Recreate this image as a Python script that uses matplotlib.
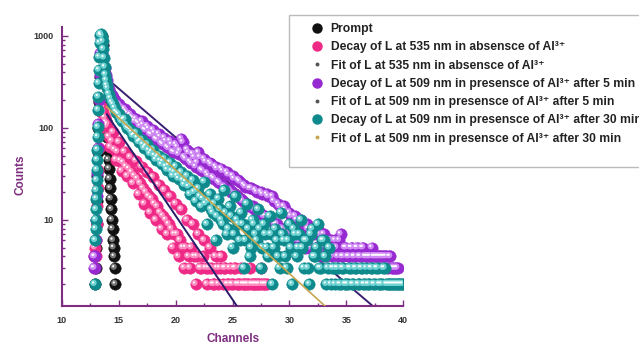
import matplotlib
matplotlib.use('Agg')
import matplotlib.pyplot as plt
import numpy as np
from matplotlib import transforms
from matplotlib.lines import Line2D
from matplotlib.patches import Rectangle
from matplotlib.ticker import FixedLocator, FixedFormatter, LogLocator, MultipleLocator, NullFormatter

plt.rcParams['font.family'] = ['Liberation Sans', 'DejaVu Sans']

# ---- data ----
# prompt (instrument response)
prompt_ch = [12.92, 12.96, 13.0, 13.04, 13.08, 13.12, 13.16, 13.2, 13.26, 13.32, 13.4, 13.5, 13.6,
             13.7, 13.8, 13.88, 13.95, 14.0, 14.05, 14.1, 14.15, 14.2, 14.25, 14.3, 14.35, 14.4,
             14.45, 14.5, 14.55, 14.6, 14.65, 14.7]
prompt_counts = [2, 3, 5, 9, 16, 30, 55, 100, 190, 360, 650, 1000, 800, 420, 200, 120, 90, 80, 58,
                 45, 36, 28, 22, 17, 13, 10, 8, 6, 5, 4, 3, 2]

# rising edges (fine channel spacing)
pink_rise_ch = [12.85, 12.9, 12.95, 13.0, 13.05, 13.1, 13.15, 13.2, 13.28, 13.36, 13.45, 13.55,
                13.65, 13.75, 13.85, 13.93]
pink_rise_counts = [4, 5, 4, 6, 9, 14, 22, 35, 60, 100, 150, 170, 150, 130, 115, 105]

purple_rise_ch = [12.78, 12.82, 12.86, 12.9, 12.95, 13.0, 13.05, 13.1, 13.15, 13.2, 13.25, 13.3,
                  13.38, 13.46, 13.55, 13.65, 13.75, 13.85, 13.93]
purple_rise_counts = [3, 4, 3, 4, 6, 10, 18, 32, 60, 110, 200, 380, 650, 900, 820, 600, 450, 380, 330]

teal_rise_ch = [12.88, 12.93, 12.96, 12.98, 13.0, 13.02, 13.04, 13.06, 13.08, 13.1, 13.12, 13.14,
                13.16, 13.18, 13.2, 13.22, 13.24, 13.27, 13.31, 13.36, 13.42, 13.5, 13.58, 13.64,
                13.7, 13.76, 13.82, 13.88, 13.94]
teal_rise_counts = [2, 6, 8, 10, 13, 17, 21, 27, 35, 45, 58, 80, 102, 157, 218, 307, 427, 590, 840,
                    1020, 1050, 1000, 870, 720, 580, 460, 380, 330, 290]

# decay tails: channels 14.0, 14.25, 14.5, ... (a) and 14.125, 14.375, ... (b)
tail_step = 0.25
tail_start_a = 14.0
tail_start_b = 14.125

pink_tail_a = [110, 62, 90, 45, 70, 34, 55, 30, 48, 25, 44, 19, 38, 15, 33, 12, 29, 10, 24, 8, 21, 7, 18, 5,
               15, 4, 13, 3, 10, 3, 9, 2, 7, 3, 6, 2, 5, 2, 4, 2, 4, 3, 2, 3, 2, 3, 2, 3,
               2, 2, 3, 2, 2, 2, 3, 2, 2]
pink_tail_b = [80, 72, 58, 55, 44, 42, 38, 36, 33, 30, 28, 25, 22, 20, 18, 17, 15, 14, 12, 11, 10, 9, 8, 7,
               7, 6, 5, 5, 4, 5, 4, 4, 3, 4, 3, 3, 3, 2, 3, 3, 2, 3, 2, 2, 3, 2, 2, 2,
               2, 2, 2, 2, 2, 2, 2, 2]

purple_tail_a = [300, 240, 215, 190, 180, 165, 160, 145, 140, 128, 125, 112, 118, 96, 104, 86, 95, 76,
                 86, 68, 78, 62, 72, 55,
                 66, 52, 76, 48, 58, 43, 52, 38,
                 54, 35, 46, 32, 42, 29, 38, 26, 36, 23, 33, 21, 30, 19, 27, 17,
                 24, 15, 22, 14, 21, 12, 20, 11, 19, 10, 18, 9, 15, 8, 14, 8,
                 12, 7, 11, 6, 10, 6, 9, 5, 8, 5, 8, 4, 7, 4, 6, 4,
                 6, 4, 7, 4, 5, 4, 5, 4, 5, 4, 5, 4, 4, 5, 4, 4,
                 4, 4, 4, 4, 3, 3, 3]
purple_tail_b = [265, 225, 200, 176, 170, 150, 152, 135, 132, 118, 116, 104, 108, 94, 98, 84, 88, 74,
                 80, 66, 72, 60, 66, 54,
                 62, 56, 70, 46, 54, 41, 48, 42, 48, 34, 43, 30, 40, 28, 36, 25, 34, 22, 31, 20,
                 28, 18, 26, 16,
                 23, 14, 22, 13, 20, 12, 19, 11, 18, 10, 16, 9, 14, 8, 13, 7,
                 11, 6, 10, 6, 9, 5, 8, 5, 7, 5, 7, 4, 6, 5, 6, 5,
                 5, 6, 4, 5, 4, 5, 4, 5, 4, 5, 4, 4, 4, 4, 4, 4,
                 4, 4, 3, 4, 3, 3]

teal_tail_a = [270, 210, 180, 150, 140, 118, 125, 100, 95, 82, 88, 70, 74, 60, 66, 52, 58, 45, 50, 40,
               46, 35, 42, 30,
               38, 28, 33, 24, 30, 19, 27, 16,
               22, 14, 26, 9, 19, 12, 6, 17, 10, 21, 7, 14, 5, 18, 9, 12,
               3, 15, 4, 10, 7, 13, 3, 9, 5, 11, 2, 8, 4, 12, 6, 3,
               9, 2, 7, 5, 10, 3, 6, 2, 8, 4, 9, 3, 6, 2, 5, 3,
               2, 3, 2, 3, 2, 3, 2, 3, 2, 3, 2, 3, 2, 3, 2, 3,
               2, 3, 2, 2, 2, 2, 2, 2, 2]
teal_tail_b = [235, 190, 165, 145, 128, 122, 108, 98, 90, 84, 78, 72, 66, 63, 57, 55, 50, 48, 44, 43,
               38, 39, 34, 33,
               30, 31, 27, 26, 23, 24, 20, 21, 18, 17, 15, 16, 13, 15, 11, 13, 9, 12, 8, 11,
               7, 10, 6, 9,
               6, 8, 5, 9, 6, 8, 5, 7, 4, 7, 5, 6, 3, 7, 4, 6,
               5, 8, 4, 7, 5, 6, 3, 7, 4, 5, 3, 6, 4, 3, 2, 3,
               3, 2, 3, 2, 2, 3, 2, 3, 2, 3, 2, 2, 3, 2, 3, 2, 2, 3, 2, 2, 2, 2, 2, 2]

# single exponential fits (straight on log axis)
fit535_ch = [13.95, 26.0]
fit535_counts = [140, 0.89]
fit5min_ch = [14.0, 38.0]
fit5min_counts = [340, 0.98]
fit30min_ch = [13.9, 34.0]
fit30min_counts = [170, 0.92]

labels = ['Prompt',
          'Decay of L at 535 nm in absensce of Al³⁺',
          'Fit of L at 535 nm in absensce of Al³⁺',
          'Decay of L at 509 nm in presensce of Al³⁺ after 5 min',
          'Fit of L at 509 nm in presensce of Al³⁺ after 5 min',
          'Decay of L at 509 nm in presensce of Al³⁺ after 30 min',
          'Fit of L at 509 nm in presensce of Al³⁺ after 30 min']

c_prompt = '#111111'
c_pink = '#EE2A86'
c_purple = '#9629D0'
c_teal = '#0F8A8C'
c_fit535 = '#2A1C6A'
c_fit5 = '#3A2070'
c_fit30 = '#C6A64E'
c_axis = '#7E2E80'


def series(rise_ch, rise_counts, tail_a, tail_b):
    ch_a = tail_start_a + tail_step * np.arange(len(tail_a))
    ch_b = tail_start_b + tail_step * np.arange(len(tail_b))
    x = np.r_[rise_ch, ch_a, ch_b]
    y = np.r_[rise_counts, tail_a, tail_b]
    order = np.argsort(x, kind='stable')
    return x[order], y[order]


def spheres(ax, x, y, color, shine, z, size=68):
    ax.scatter(x, y, s=size, c=color, edgecolors=color, linewidths=0.3, zorder=z)
    glow = transforms.offset_copy(ax.transData, fig=ax.figure, x=-0.9, y=0.9, units='points')
    ax.scatter(x, y, s=size * 0.3, c=shine, edgecolors='none', zorder=z + 0.1, transform=glow)
    spot = transforms.offset_copy(ax.transData, fig=ax.figure, x=-1.2, y=1.2, units='points')
    ax.scatter(x, y, s=2.5, c='white', edgecolors='none', zorder=z + 0.2, transform=spot)


fig = plt.figure(figsize=(6.39, 3.46), dpi=100)
ax = fig.add_axes([0.097, 0.116, 0.534, 0.806])

ax.plot(fit5min_ch, fit5min_counts, color=c_fit5, lw=1.4, zorder=1.5)

spheres(ax, prompt_ch, prompt_counts, c_prompt, '#777777', 2)

x, y = series(pink_rise_ch, pink_rise_counts, pink_tail_a, pink_tail_b)
spheres(ax, x, y, c_pink, '#FF8CC0', 3)
ax.plot(fit535_ch, fit535_counts, color=c_fit535, lw=1.4, zorder=3.5)

x, y = series(purple_rise_ch, purple_rise_counts, purple_tail_a, purple_tail_b)
spheres(ax, x, y, c_purple, '#D08BF5', 4)

x, y = series(teal_rise_ch, teal_rise_counts, teal_tail_a, teal_tail_b)
spheres(ax, x, y, c_teal, '#6FD2D2', 5)
ax.plot(fit30min_ch, fit30min_counts, color=c_fit30, lw=1.2, zorder=5.5)

ax.set_yscale('log')
ax.set_xlim(10, 40)
ax.set_ylim(1.16, 1250)

for side in ['top', 'right']:
    ax.spines[side].set_visible(False)
for side in ['left', 'bottom']:
    ax.spines[side].set_color(c_axis)
    ax.spines[side].set_linewidth(1.5)

ax.xaxis.set_major_locator(MultipleLocator(5))
ax.xaxis.set_minor_locator(MultipleLocator(2.5))
ax.yaxis.set_major_locator(FixedLocator([10, 100, 1000]))
ax.yaxis.set_major_formatter(FixedFormatter(['10', '100', '1000']))
ax.yaxis.set_minor_locator(LogLocator(base=10, subs=np.arange(2, 10)))
ax.yaxis.set_minor_formatter(NullFormatter())
ax.tick_params(which='both', direction='in', color=c_axis, width=1.0,
               labelsize=6.5, labelcolor='#333333')
ax.tick_params(which='major', length=4)
ax.tick_params(which='minor', length=2)
ax.tick_params(axis='x', pad=7)
ax.tick_params(axis='y', pad=6)
for lab in ax.get_xticklabels() + ax.get_yticklabels():
    lab.set_fontweight('bold')

ax.set_xlabel('Channels', fontsize=8.5, fontweight='bold', color=c_axis, labelpad=6)
ax.set_ylabel('Counts', fontsize=8.5, fontweight='bold', color=c_axis)
ax.yaxis.set_label_coords(-0.105, 0.47)

# legend frame (runs off the right edge like the original)
fig.patches.append(Rectangle((289 / 639, 1 - 167 / 346), 0.6, 152 / 346,
                             transform=fig.transFigure, facecolor='white',
                             edgecolor='#BBBBBB', lw=1.0, zorder=10))

handles = [
    Line2D([], [], ls='none', marker='o', ms=6.5, color=c_prompt),
    Line2D([], [], ls='none', marker='o', ms=6.5, color=c_pink),
    Line2D([], [], ls='none', marker='o', ms=1.8, color='#555555'),
    Line2D([], [], ls='none', marker='o', ms=6.5, color=c_purple),
    Line2D([], [], ls='none', marker='o', ms=1.8, color='#555555'),
    Line2D([], [], ls='none', marker='o', ms=6.5, color=c_teal),
    Line2D([], [], ls='none', marker='o', ms=1.8, color=c_fit30),
]
leg = fig.legend(handles, labels, loc='upper left', bbox_to_anchor=(312 / 639, 1 - 23 / 346),
                 bbox_transform=fig.transFigure, frameon=False, fontsize=8.7,
                 handlelength=0.9, handletextpad=0.65, borderpad=0, borderaxespad=0,
                 labelspacing=0.52)
leg.set_zorder(11)
for t in leg.get_texts():
    t.set_fontweight('bold')
    t.set_color('#222222')

fig.savefig('out.png', dpi=100)
